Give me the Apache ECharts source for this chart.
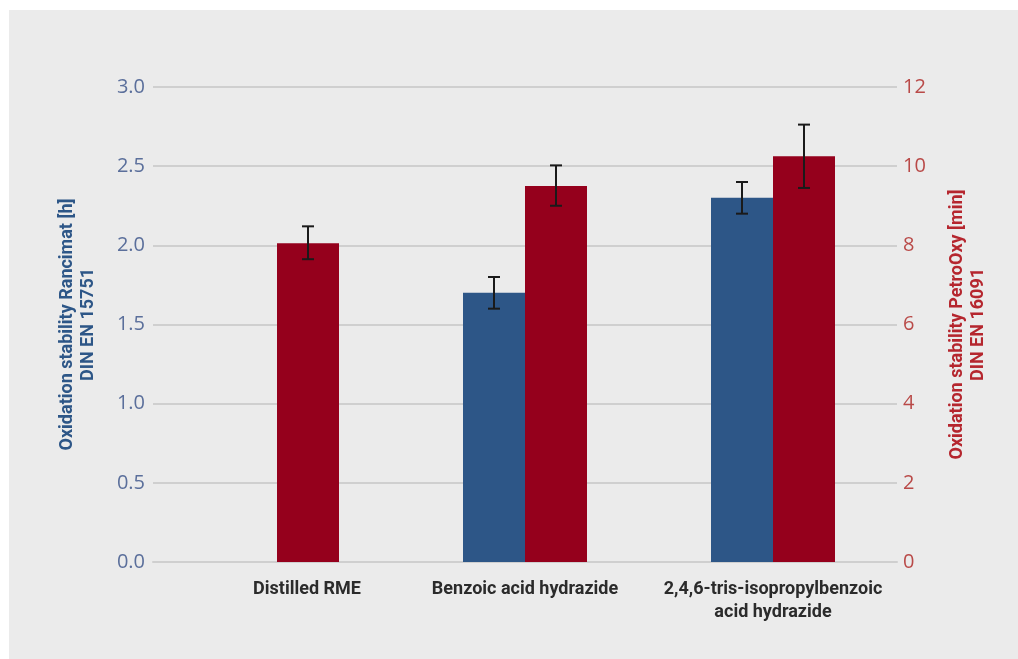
<!DOCTYPE html>
<html><head><meta charset="utf-8">
<script src="https://cdn.jsdelivr.net/npm/echarts@6/dist/echarts.min.js"></script>
<style>html,body{margin:0;padding:0;background:#fff}#c{width:1018px;height:659px}</style>
</head><body><div id="c"></div>
<script>
const categories = ['Distilled RME', 'Benzoic acid hydrazide', '2,4,6-tris-isopropylbenzoic\nacid hydrazide'];
const rancimat = [null, 1.70, 2.30];
const rancimatLow = [null, 1.60, 2.20];
const rancimatHigh = [null, 1.80, 2.40];
const petroOxy = [8.05, 9.50, 10.25];
const petroLow = [7.65, 9.00, 9.45];
const petroHigh = [8.48, 10.02, 11.05];
const leftTicks = [0, 0.5, 1.0, 1.5, 2.0, 2.5, 3.0];
const rightTicks = [0, 2, 4, 6, 8, 10, 12];

const BLUE = '#2d5687', RED = '#95001c';
const chart = echarts.init(document.getElementById('c'));

function errSeries(low, high, yIndex, offsetIdx) {
  return {
    type: 'custom', yAxisIndex: yIndex, z: 10,
    data: categories.map((c, i) => [i, low[i], high[i]]).filter(d => d[1] != null),
    renderItem: function (params, api) {
      const x = api.value(0);
      const p0 = api.coord([x, api.value(1)]);
      const p1 = api.coord([x, api.value(2)]);
      const band = api.size([1, 0])[0];
      const bw = band * 0.25;
      const cx = p0[0] + (offsetIdx === 0 ? -bw / 2 : bw / 2);
      const cap = 6;
      const st = { stroke: '#1a1a1a', lineWidth: 2 };
      return { type: 'group', children: [
        { type: 'line', shape: { x1: cx, y1: p0[1], x2: cx, y2: p1[1] }, style: st },
        { type: 'line', shape: { x1: cx - cap, y1: p0[1], x2: cx + cap, y2: p0[1] }, style: st },
        { type: 'line', shape: { x1: cx - cap, y1: p1[1], x2: cx + cap, y2: p1[1] }, style: st }
      ]};
    }
  };
}

chart.setOption({
  backgroundColor: '#fff',
  animation: false,
  graphic: [{ type: 'rect', left: 9, top: 10, shape: { width: 1009, height: 649 }, style: { fill: '#ebebeb' }, z: -10 }],
  grid: { left: 153, right: 121, top: 87, bottom: 97 },
  xAxis: {
    type: 'category', data: categories,
    axisLine: { lineStyle: { color: '#cfcfcf', width: 2 } },
    axisTick: { show: false },
    axisLabel: {
      interval: 0, hideOverlap: false,
      margin: 16, color: '#2b2b2b', fontSize: 18, fontWeight: 'bold', fontFamily: 'Roboto', lineHeight: 23,
      formatter: function (v, i) { return i === 0 ? '{s|' + v + '}' : v; },
      rich: { s: { padding: [0, 0, 0, 60], color: '#2b2b2b', fontSize: 18, fontWeight: 'bold', fontFamily: 'Roboto' } }
    }
  },
  yAxis: [{
    type: 'value', min: 0, max: 3, interval: 0.5,
    name: 'Oxidation stability Rancimat [h]\nDIN EN 15751', nameLocation: 'middle', nameGap: 54, nameRotate: 90,
    nameTextStyle: { color: BLUE, fontSize: 18, fontWeight: 'bold', fontFamily: 'Roboto', lineHeight: 21 },
    axisLabel: { color: '#5b6f9b', fontSize: 20, fontFamily: 'Open Sans', margin: 8, formatter: v => v.toFixed(1) },
    axisLine: { show: false }, axisTick: { show: false },
    splitLine: { lineStyle: { color: '#cfcfcf', width: 2 } }
  }, {
    type: 'value', min: 0, max: 12, interval: 2, position: 'right',
    name: 'Oxidation stability PetroOxy [min]\nDIN EN 16091', nameLocation: 'middle', nameGap: 50, nameRotate: 90,
    nameTextStyle: { color: '#b5262e', fontSize: 18, fontWeight: 'bold', fontFamily: 'Roboto', lineHeight: 21 },
    axisLabel: { color: '#b94a48', fontSize: 20, fontFamily: 'Open Sans', margin: 6 },
    axisLine: { show: false }, axisTick: { show: false },
    splitLine: { show: false }
  }],
  series: [
    { type: 'bar', yAxisIndex: 0, data: rancimat, barWidth: '25%', barGap: '0%', itemStyle: { color: BLUE } },
    { type: 'bar', yAxisIndex: 1, data: petroOxy, barWidth: '25%', barGap: '0%', itemStyle: { color: RED } },
    errSeries(rancimatLow, rancimatHigh, 0, 0),
    errSeries(petroLow, petroHigh, 1, 1)
  ]
});
</script></body></html>
